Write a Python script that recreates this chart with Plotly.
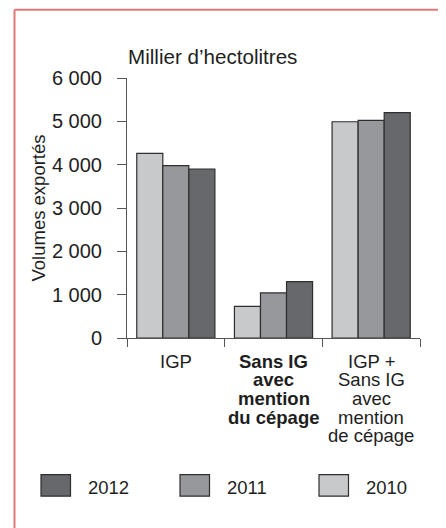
import plotly.graph_objects as go

# ---- data ----
categories = ["IGP", "Sans IG avec mention du cépage", "IGP + Sans IG avec mention de cépage"]
category_lines = [
    ["IGP"],
    ["Sans IG", "avec", "mention", "du cépage"],
    ["IGP +", "Sans IG", "avec", "mention", "de cépage"],
]
category_bold = [False, True, False]
years = ["2010", "2011", "2012"]
values_2010 = [4260, 730, 4990]
values_2011 = [3980, 1040, 5020]
values_2012 = [3900, 1300, 5200]
series = {"2010": values_2010, "2011": values_2011, "2012": values_2012}
legend_order = ["2012", "2011", "2010"]
y_tickvals = [0, 1000, 2000, 3000, 4000, 5000, 6000]
unit_label = "Millier d’hectolitres"
y_title = "Volumes exportés"

# ---- style ----
colors = {"2010": "#c8c9cb", "2011": "#97989b", "2012": "#67686c"}
FONT = "Arial, Liberation Sans, Helvetica, sans-serif"
TXT = "#1e1e1e"
FS = 18.5      # category labels, axis title, legend
FS_TICK = 20   # y tick labels
FS_UNIT = 20.6
WIN_W, WIN_H = 446, 528
OFF = 8        # page body margin
W, H = WIN_W - OFF, WIN_H - OFF
L, R, T, B = 127, 420, 78.3, 338.3  # plot area in window pixels


def px(X):
    return (X - L) / (R - L)


def py(Y):
    return (B - Y) / (B - T)


fig = go.Figure()
for yr in years:
    fig.add_trace(go.Bar(
        name=yr, x=categories, y=series[yr],
        marker=dict(color=colors[yr], line=dict(color="#2e2e2e", width=1.2)),
        showlegend=False,
    ))

annotations = []
shapes = []

# category labels, one line each (tight line spacing)
for cat, lines, bold in zip(categories, category_lines, category_bold):
    for i, ln in enumerate(lines):
        annotations.append(dict(
            x=cat, xref="x", y=py(361.5 + 18.6 * i), yref="paper",
            text=f"<b>{ln}</b>" if bold else ln, showarrow=False,
            xanchor="center", yanchor="middle",
            font=dict(family=FONT, size=FS, color=TXT),
        ))

# unit label
annotations.append(dict(
    x=px(126), xref="paper", y=py(57), yref="paper", text=unit_label,
    showarrow=False, xanchor="left", yanchor="middle",
    font=dict(family=FONT, size=FS_UNIT, color=TXT),
))

# custom legend
box_x = [41, 180, 319]
for yr, bx in zip(legend_order, box_x):
    shapes.append(dict(type="rect", xref="paper", yref="paper",
                       x0=px(bx), x1=px(bx + 29.5), y0=py(496.5), y1=py(475),
                       fillcolor=colors[yr], line=dict(color="#2e2e2e", width=1.2)))
    annotations.append(dict(
        x=px(bx + 45), xref="paper", y=py(488), yref="paper", text=yr,
        showarrow=False, xanchor="left", yanchor="middle",
        font=dict(family=FONT, size=FS, color=TXT),
    ))

# frame (pink border, top + left)
shapes.append(dict(type="line", xref="paper", yref="paper",
                   x0=px(14.5), x1=px(WIN_W + 5), y0=py(10), y1=py(10),
                   line=dict(color="#e07878", width=2)))
shapes.append(dict(type="line", xref="paper", yref="paper",
                   x0=px(14.5), x1=px(14.5), y0=py(10), y1=py(WIN_H + 5),
                   line=dict(color="#e07878", width=2)))

fig.update_layout(
    width=W, height=H,
    margin=dict(l=L - OFF, r=WIN_W - R, t=T - OFF, b=WIN_H - B, pad=0),
    paper_bgcolor="white", plot_bgcolor="white",
    barmode="group", bargap=0.2, bargroupgap=0,
    separators=", ",
    font=dict(family=FONT, size=FS, color=TXT),
    annotations=annotations, shapes=shapes,
    showlegend=False,
)
fig.update_xaxes(
    type="category", range=[-0.5, 2.5], showticklabels=False,
    ticks="outside", tickson="boundaries", ticklen=8, tickcolor="#555",
    showline=True, linecolor="#555", linewidth=1, showgrid=False, zeroline=False,
)
fig.update_yaxes(
    range=[0, 6000], tickvals=y_tickvals, separatethousands=True,
    ticks="outside", ticklen=9, tickcolor="#555", ticklabelstandoff=11,
    showline=True, linecolor="#555", linewidth=1, showgrid=False, zeroline=False,
    title=dict(text=y_title, font=dict(family=FONT, size=FS, color=TXT), standoff=1),
    tickfont=dict(family=FONT, size=FS_TICK, color=TXT),
)

fig.write_html("out.html")
